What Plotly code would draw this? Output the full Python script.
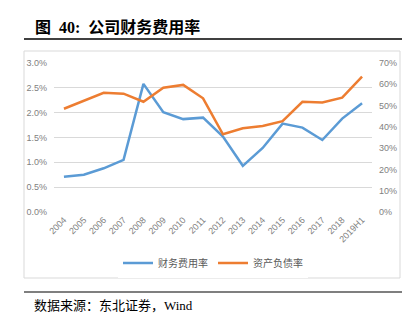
import plotly.graph_objects as go

W, H = 417, 325

years = ["2004", "2005", "2006", "2007", "2008", "2009", "2010", "2011",
         "2012", "2013", "2014", "2015", "2016", "2017", "2018", "2019H1"]
fin_expense_ratio = [0.0071, 0.0075, 0.0088, 0.0105, 0.0258, 0.0201, 0.0187, 0.0190,
                     0.0152, 0.0093, 0.0129, 0.0178, 0.0170, 0.0145, 0.0188, 0.0219]
debt_ratio = [0.485, 0.522, 0.560, 0.556, 0.518, 0.584, 0.597, 0.534,
              0.365, 0.393, 0.404, 0.427, 0.518, 0.515, 0.537, 0.636]

left_ticks = [0, 0.005, 0.01, 0.015, 0.02, 0.025, 0.03]
right_ticks = [0, 0.1, 0.2, 0.3, 0.4, 0.5, 0.6, 0.7]


def px(x):
    return x / W


def py(y):
    return 1 - y / H


TICK_FONT = dict(family="Liberation Sans, Arial", size=9, color="#7f7f7f")
CJK = "Noto Sans CJK SC"

fig = go.Figure()
fig.add_trace(go.Scatter(
    x=years, y=fin_expense_ratio, name="财务费用率", mode="lines",
    line=dict(color="#5B9BD5", width=2.5), yaxis="y"))
fig.add_trace(go.Scatter(
    x=years, y=debt_ratio, name="资产负债率", mode="lines",
    line=dict(color="#ED7D31", width=2.5), yaxis="y2"))

fig.update_layout(
    width=W, height=H,
    margin=dict(l=0, r=0, t=0, b=0),
    paper_bgcolor="white", plot_bgcolor="white",
    showlegend=True,
    legend=dict(orientation="h", x=px(213), y=py(263), xanchor="center", yanchor="middle",
                font=dict(family=CJK, size=10, color="#595959"),
                itemwidth=30, tracegroupgap=0),
    xaxis=dict(
        type="category", domain=[px(54), px(372)], range=[-0.5, len(years) - 0.5],
        tickangle=-45, tickfont=TICK_FONT, showgrid=False, zeroline=False,
        showline=False, ticks="", automargin=False, anchor="y"),
    yaxis=dict(
        domain=[py(212), py(63)], range=[0, 0.03], tickvals=left_ticks,
        tickformat=".1%", tickfont=TICK_FONT, showgrid=True, gridcolor="#d9d9d9",
        gridwidth=1, zeroline=False, showline=False, ticks="", automargin=False,
        ticklabelstandoff=6),
    yaxis2=dict(
        overlaying="y", side="right", range=[0, 0.7], tickvals=right_ticks,
        tickformat=".0%", tickfont=TICK_FONT, showgrid=False, zeroline=False,
        showline=False, ticks="", automargin=False, anchor="x", ticklabelstandoff=6),
)

shapes = [
    # chart frame
    dict(type="rect", xref="paper", yref="paper", x0=px(24), x1=px(400), y0=py(278), y1=py(51),
         line=dict(color="#d9d9d9", width=1)),
    # rule under the heading
    dict(type="line", xref="paper", yref="paper", x0=px(24), x1=px(402), y0=py(39), y1=py(39),
         line=dict(color="black", width=1.5)),
    # rule above the source note
    dict(type="line", xref="paper", yref="paper", x0=px(24), x1=px(402), y0=py(292), y1=py(292),
         line=dict(color="black", width=1.2)),
]
fig.update_layout(shapes=shapes)

fig.add_annotation(
    text="<b>图  40:  公司财务费用率</b>", xref="paper", yref="paper",
    x=px(33), y=py(27), xanchor="left", yanchor="middle", showarrow=False,
    font=dict(family="Liberation Serif, " + CJK, size=16, color="black"))
fig.add_annotation(
    text="数据来源：东北证券，Wind", xref="paper", yref="paper",
    x=px(32), y=py(305), xanchor="left", yanchor="middle", showarrow=False,
    font=dict(family="Liberation Serif, " + CJK, size=13, color="black"))

fig.write_html("out.html")
